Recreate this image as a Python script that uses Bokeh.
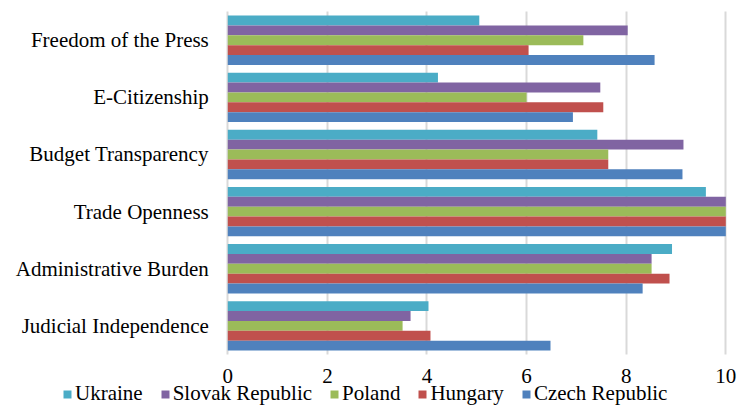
from bokeh.plotting import figure
from bokeh.models import ColumnDataSource, Range1d, Legend, LegendItem, FixedTicker, Grid
from bokeh.transform import dodge
from bokeh.embed import file_html
from bokeh.resources import INLINE

categories = ["Judicial Independence", "Administrative Burden", "Trade Openness",
              "Budget Transparency", "E-Citizenship", "Freedom of the Press"]
series_names = ["Ukraine", "Slovak Republic", "Poland", "Hungary", "Czech Republic"]
ukraine = [4.03, 8.92, 9.60, 7.42, 4.22, 5.05]
slovak = [3.67, 8.51, 10.0, 9.15, 7.48, 8.03]
poland = [3.51, 8.51, 10.0, 7.64, 6.00, 7.14]
hungary = [4.07, 8.87, 10.0, 7.64, 7.54, 6.04]
czech = [6.48, 8.33, 10.0, 9.13, 6.93, 8.57]
x_ticks = [0, 2, 4, 6, 8, 10]

colors = ["#4BACC6", "#8064A2", "#9BBB59", "#C0504D", "#4F81BD"]
values = [ukraine, slovak, poland, hungary, czech]

n = len(categories)
ypos = [i + 0.5 for i in range(n)]
data = {"y": ypos}
keys = ["s0", "s1", "s2", "s3", "s4"]
for k, v in zip(keys, values):
    data[k] = v
source = ColumnDataSource(data)

p = figure(width=738, height=407, output_backend="svg", toolbar_location=None,
           x_range=Range1d(-4.564, 10.255), y_range=Range1d(-0.928, 6.195))
p.min_border_left = 0
p.min_border_right = 0
p.min_border_top = 0
p.min_border_bottom = 0
p.outline_line_color = None

# grid lines, limited to the bar region
p.xgrid.grid_line_color = None
p.ygrid.grid_line_color = None
if "cross_bounds" in Grid.properties():
    g = Grid(dimension=0, ticker=FixedTicker(ticks=x_ticks), bounds=(0, 10),
             cross_bounds=(0, n), grid_line_color="#d9d9d9", grid_line_width=2)
    p.add_layout(g)
else:
    p.segment(x0=x_ticks, x1=x_ticks, y0=[0] * len(x_ticks), y1=[n] * len(x_ticks),
              line_color="#d9d9d9", line_width=2)

bh = 0.173
offsets = [2 * bh, bh, 0, -bh, -2 * bh]
items = []
for k, name, c, off in zip(keys, series_names, colors, offsets):
    r = p.hbar(y=dodge("y", off), right=k, left=0, height=bh,
               source=source, fill_color=c, line_color=None)
    items.append(LegendItem(label=name, renderers=[r]))

p.xaxis.ticker = FixedTicker(ticks=x_ticks)
p.yaxis.ticker = FixedTicker(ticks=ypos)
p.yaxis.major_label_overrides = {yv: c for yv, c in zip(ypos, categories)}
p.xaxis.fixed_location = 0
p.yaxis.fixed_location = 0
for ax in (p.xaxis, p.yaxis):
    ax.axis_line_color = None
    ax.major_tick_line_color = None
    ax.minor_tick_line_color = None
    ax.major_tick_out = 0
    ax.major_tick_in = 0
    ax.minor_tick_out = 0
    ax.minor_tick_in = 0
    ax.major_label_text_font = "Liberation Serif"
    ax.major_label_text_font_size = "21px"
    ax.major_label_text_color = "black"
p.xaxis.major_label_standoff = 15
p.yaxis.major_label_standoff = 19

legend = Legend(items=items, orientation="horizontal", location=(62, 1),
                padding=0, margin=0, spacing=17, label_standoff=3,
                glyph_width=10, glyph_height=10,
                label_text_font="Liberation Serif", label_text_font_size="21px",
                label_text_color="black",
                border_line_color=None, background_fill_alpha=0)
p.add_layout(legend, "center")

open("out.html", "w").write(file_html(p, INLINE))
